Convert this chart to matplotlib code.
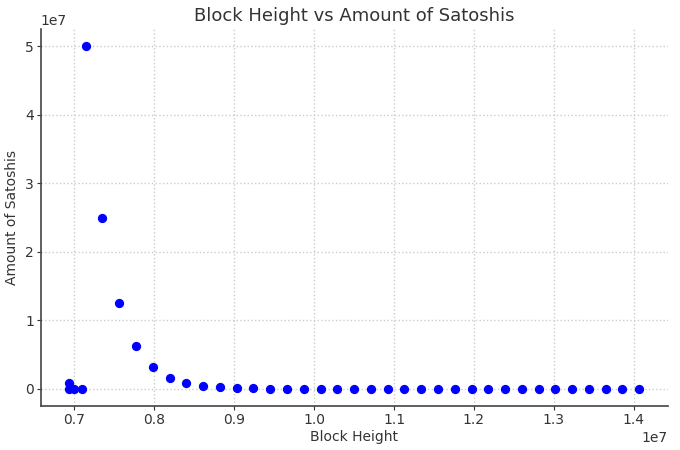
import matplotlib
matplotlib.use('Agg')
import matplotlib.pyplot as plt

# halving-style reward points
block_heights = [
    7140000, 7350000, 7560000, 7770000, 7980000, 8190000, 8400000, 8610000,
    8820000, 9030000, 9240000, 9450000, 9660000, 9870000, 10080000, 10290000,
    10500000, 10710000, 10920000, 11130000, 11340000, 11550000, 11760000,
    11970000, 12180000, 12390000, 12600000, 12810000, 13020000, 13230000,
    13440000, 13650000, 13860000, 14070000,
]
satoshis = [
    50000000, 25000000, 12500000, 6250000, 3125000, 1562500, 781250, 390625,
    195312, 97656, 48828, 24414, 12207, 6103, 3051, 1525, 762, 381, 190, 95,
    47, 23, 11, 5, 2, 1, 0, 0, 0, 0, 0, 0, 0, 0,
]

# early blocks on the left
early_heights = [6935000, 6935000, 6990000, 7090000]
early_satoshis = [880000, 0, 0, 0]

fig, ax = plt.subplots(figsize=(6.8, 4.5), dpi=100)
fig.subplots_adjust(left=0.06, right=0.982, top=0.935, bottom=0.098)

ax.scatter(early_heights + block_heights, early_satoshis + satoshis,
           color='#0000ff', s=32, zorder=3)

ax.set_title('Block Height vs Amount of Satoshis', fontsize=13, color='#333333')
ax.set_xlabel('Block Height', fontsize=10, color='#333333', labelpad=2)
ax.set_ylabel('Amount of Satoshis', fontsize=10, color='#333333')

ax.grid(True, linestyle=':', color='#cccccc', linewidth=1)
ax.spines['top'].set_visible(False)
ax.spines['right'].set_visible(False)
for side in ('left', 'bottom'):
    ax.spines[side].set_color('#444444')
    ax.spines[side].set_linewidth(1.2)
ax.tick_params(colors='#333333', labelsize=10, length=3, pad=2)
ax.xaxis.get_offset_text().set_fontsize(10)
ax.yaxis.get_offset_text().set_fontsize(10)

fig.savefig('out.png', dpi=100)
